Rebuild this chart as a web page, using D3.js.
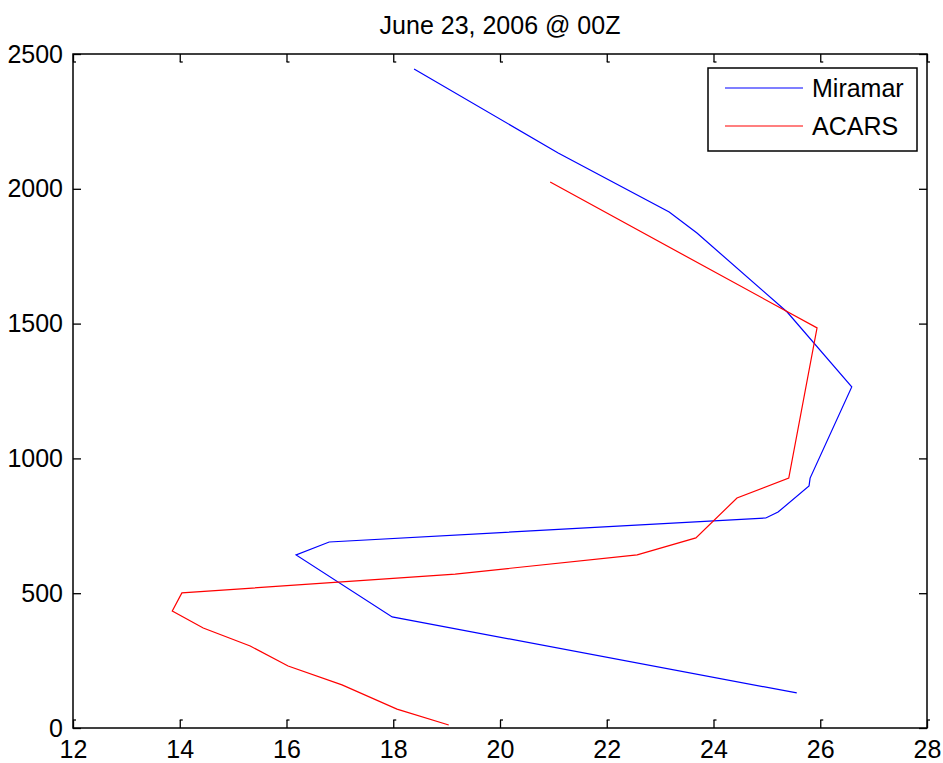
<!DOCTYPE html>
<html>
<head>
<meta charset="utf-8">
<script src="https://cdn.jsdelivr.net/npm/d3@7"></script>
<style>
  body { margin: 0; background: #fff; }
  text { font-family: "Liberation Sans", Arial, sans-serif; fill: #000; }
</style>
</head>
<body>
<div id="chart"></div>
<script>
// temperature (x) vs height (y)
const miramarTemp = [18.39, 21.09, 23.17, 23.69, 25.38, 26.59, 25.81, 25.79, 25.21, 24.98, 16.80, 16.18, 17.98, 25.56];
const miramarHeight = [2444, 2133, 1914, 1836, 1543, 1265, 927, 898, 801, 779, 690, 642, 412, 130];

const acarsTemp = [20.94, 25.94, 25.41, 24.44, 23.67, 22.57, 19.16, 14.04, 13.86, 14.44, 15.32, 16.03, 17.04, 18.07, 19.04];
const acarsHeight = [2025, 1484, 927, 853, 705, 642, 571, 501, 434, 371, 304, 230, 160, 70, 11];

const xTicks = [12, 14, 16, 18, 20, 22, 24, 26, 28];
const yTicks = [0, 500, 1000, 1500, 2000, 2500];
const seriesNames = ["Miramar", "ACARS"];
const seriesColors = ["#0000ff", "#ff0000"];

const margin = {top: 54, right: 16, bottom: 35, left: 73};
const width = 943 - margin.left - margin.right;
const height = 763 - margin.top - margin.bottom;

const svg = d3.select("#chart").append("svg")
    .attr("width", 943)
    .attr("height", 763);

const g = svg.append("g")
    .attr("transform", "translate(" + margin.left + "," + margin.top + ")");

const x = d3.scaleLinear().domain([12, 28]).range([0, width]);
const y = d3.scaleLinear().domain([0, 2500]).range([height, 0]);

// lines
const line = d3.line().x(d => x(d[0])).y(d => y(d[1]));
const series = [
    d3.zip(miramarTemp, miramarHeight),
    d3.zip(acarsTemp, acarsHeight)
];
series.forEach((s, i) => {
    g.append("path").datum(s)
        .attr("d", line)
        .attr("fill", "none")
        .attr("stroke", seriesColors[i])
        .attr("stroke-width", 1.2);
});

// axes with inward ticks
function styleAxis(sel) {
    sel.select(".domain").remove();
    sel.selectAll(".tick line").attr("stroke", "#000").attr("stroke-width", 1.3);
    sel.selectAll("text").style("font-size", "25px").style("font-family", "Liberation Sans, Arial, sans-serif");
}

g.append("g").attr("transform", `translate(0,${height})`)
    .call(d3.axisBottom(x).tickValues(xTicks).tickFormat(d3.format("d")).tickSizeInner(-8).tickSizeOuter(0).tickPadding(12))
    .call(styleAxis);
g.append("g")
    .call(d3.axisTop(x).tickValues(xTicks).tickSizeInner(-8).tickSizeOuter(0).tickFormat(""))
    .call(styleAxis);
g.append("g")
    .call(d3.axisLeft(y).tickValues(yTicks).tickFormat(d3.format("d")).tickSizeInner(-8).tickSizeOuter(0).tickPadding(10))
    .call(styleAxis);
g.append("g").attr("transform", `translate(${width},0)`)
    .call(d3.axisRight(y).tickValues(yTicks).tickSizeInner(-8).tickSizeOuter(0).tickFormat(""))
    .call(styleAxis);

// little hooks at tick ends
g.selectAll(".hookB").data(xTicks).enter().append("line")
    .attr("x1", d => x(d)).attr("x2", d => x(d) + 3)
    .attr("y1", height - 8).attr("y2", height - 8)
    .attr("stroke", "#000").attr("stroke-width", 1.3);
g.selectAll(".hookT").data(xTicks).enter().append("line")
    .attr("x1", d => x(d)).attr("x2", d => x(d) + 3)
    .attr("y1", 8).attr("y2", 8)
    .attr("stroke", "#000").attr("stroke-width", 1.3);

// box
g.append("rect")
    .attr("width", width).attr("height", height)
    .attr("fill", "none").attr("stroke", "#000").attr("stroke-width", 1.5);

// title
svg.append("text")
    .attr("x", margin.left + width / 2)
    .attr("y", 34)
    .attr("text-anchor", "middle")
    .style("font-size", "25px")
    .text("June 23, 2006 @ 00Z");

// legend
const legend = svg.append("g").attr("transform", "translate(708,68)");
legend.append("rect")
    .attr("width", 209).attr("height", 83)
    .attr("fill", "#fff").attr("stroke", "#000").attr("stroke-width", 1.5);
seriesNames.forEach((name, i) => {
    const ly = 20 + i * 38;
    legend.append("line")
        .attr("x1", 17).attr("x2", 95)
        .attr("y1", ly).attr("y2", ly)
        .attr("stroke", seriesColors[i]).attr("stroke-width", 1.2);
    legend.append("text")
        .attr("x", 104).attr("y", ly + 9)
        .style("font-size", "25px")
        .text(name);
});
</script>
</body>
</html>
